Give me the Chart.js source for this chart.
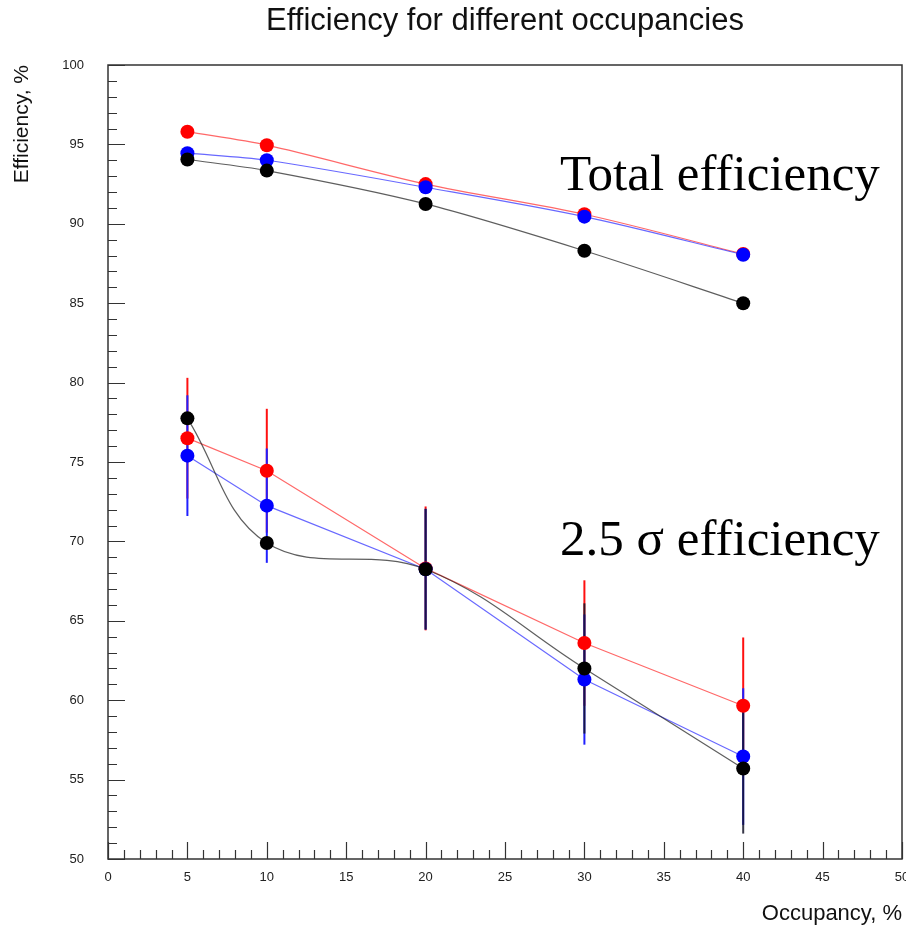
<!DOCTYPE html>
<html>
<head>
<meta charset="utf-8">
<title>Efficiency for different occupancies</title>
<script src="https://cdn.jsdelivr.net/npm/chart.js@4.4.1/dist/chart.umd.min.js"></script>
<style>
  body { margin: 0; background: #fff; }
  canvas { display: block; }
</style>
</head>
<body>
<canvas id="myChart" width="906" height="927"></canvas>
<script>
'use strict';

// Global variables

let occupancy = [5, 10, 20, 30, 40];

// total efficiency, %
let totalRed = [95.8, 94.95, 92.5, 90.6, 88.1];
let totalBlue = [94.45, 94.0, 92.3, 90.45, 88.05];
let totalBlack = [94.05, 93.35, 91.25, 88.3, 85.0];

// 2.5 sigma efficiency, %
let sigmaRed = [76.5, 74.45, 68.3, 63.6, 59.65];
let sigmaBlue = [75.4, 72.25, 68.25, 61.3, 56.45];
let sigmaBlack = [77.75, 69.9, 68.25, 62.0, 55.7];

// errors on the 2.5 sigma points
let sigmaRedErr = [3.8, 3.9, 3.9, 3.95, 4.3];
let sigmaBlueErr = [3.8, 3.6, 3.8, 4.1, 4.3];
let sigmaBlackErr = [0, 0, 3.8, 4.1, 4.1];

let xTicks = [0, 5, 10, 15, 20, 25, 30, 35, 40, 45, 50];
let yTicks = [50, 55, 60, 65, 70, 75, 80, 85, 90, 95, 100];

// text labels inside the frame: [text, x, y] in data units
let plotLabels = [
  ['Total efficiency', 48.6, 92.13],
  ['2.5 \u03c3 efficiency', 48.6, 69.14]
];

// functions

function toPoints(values) {
  let pts = [];
  for (let i = 0; i < occupancy.length; i++) {
    pts.push({ x: occupancy[i], y: values[i] });
  }
  return pts;
}

function makeSet(label, values, color, lineColor, tension) {
  return {
    label: label,
    data: toPoints(values),
    borderColor: lineColor,
    backgroundColor: color,
    borderWidth: 1.2,
    pointRadius: 7,
    pointBorderWidth: 0,
    pointBackgroundColor: color,
    tension: tension
  };
}

// error bars drawn under the markers
const errorBars = {
  id: 'errorBars',
  beforeDatasetsDraw(chart) {
    let ctx = chart.ctx;
    let xs = chart.scales.x;
    let ys = chart.scales.y;
    let sets = [
      [sigmaRed, sigmaRedErr, '#ff1010'],
      [sigmaBlue, sigmaBlueErr, '#2020ff'],
      [sigmaBlack, sigmaBlackErr, 'rgba(20,20,40,0.85)']
    ];
    ctx.save();
    ctx.lineWidth = 2;
    for (let s = 0; s < sets.length; s++) {
      let vals = sets[s][0];
      let errs = sets[s][1];
      ctx.strokeStyle = sets[s][2];
      for (let i = 0; i < occupancy.length; i++) {
        if (!errs[i]) continue;
        let px = xs.getPixelForValue(occupancy[i]);
        ctx.beginPath();
        ctx.moveTo(px, ys.getPixelForValue(vals[i] + errs[i]));
        ctx.lineTo(px, ys.getPixelForValue(vals[i] - errs[i]));
        ctx.stroke();
      }
    }
    ctx.restore();
  }
};

// frame with inward ticks, plus the two labels
const frameTicks = {
  id: 'frameTicks',
  afterDraw(chart) {
    let ctx = chart.ctx;
    let area = chart.chartArea;
    let xs = chart.scales.x;
    let ys = chart.scales.y;
    ctx.save();
    ctx.strokeStyle = '#333';
    ctx.lineWidth = 1.5;
    ctx.strokeRect(area.left, area.top, area.right - area.left, area.bottom - area.top);
    ctx.lineWidth = 1.2;
    ctx.beginPath();
    for (let v = 0; v <= 50; v++) {
      let px = Math.round(xs.getPixelForValue(v)) + 0.5;
      let len = v % 5 === 0 ? 17 : 9;
      ctx.moveTo(px, area.bottom);
      ctx.lineTo(px, area.bottom - len);
    }
    for (let v = 50; v <= 100; v++) {
      let py = Math.round(ys.getPixelForValue(v)) + 0.5;
      let len = v % 5 === 0 ? 17 : 9;
      ctx.moveTo(area.left, py);
      ctx.lineTo(area.left + len, py);
    }
    ctx.stroke();

    ctx.fillStyle = '#000';
    ctx.font = '51px "Liberation Serif", "Times New Roman", serif';
    ctx.textAlign = 'right';
    ctx.textBaseline = 'alphabetic';
    for (let i = 0; i < plotLabels.length; i++) {
      let lab = plotLabels[i];
      ctx.fillText(lab[0], xs.getPixelForValue(lab[1]), ys.getPixelForValue(lab[2]));
    }
    ctx.restore();
  }
};

// executable code

let datasets = [
  makeSet('Black total', totalBlack, '#000000', 'rgba(40,40,40,0.75)', 0.3),
  makeSet('Black 2.5 sigma', sigmaBlack, '#000000', 'rgba(40,40,40,0.75)', 0.38),
  makeSet('Blue total', totalBlue, '#0000ff', 'rgba(40,40,255,0.7)', 0.3),
  makeSet('Blue 2.5 sigma', sigmaBlue, '#0000ff', 'rgba(40,40,255,0.7)', 0),
  makeSet('Red total', totalRed, '#ff0000', 'rgba(255,40,40,0.7)', 0.3),
  makeSet('Red 2.5 sigma', sigmaRed, '#ff0000', 'rgba(255,40,40,0.7)', 0)
];

const ctx = document.getElementById('myChart');
const config = {
  type: 'line',
  data: { datasets: datasets },
  options: {
    responsive: false,
    animation: false,
    layout: { autoPadding: false, padding: { top: 0, right: 4, bottom: 0, left: 0 } },
    plugins: {
      legend: { display: false },
      tooltip: { enabled: false },
      title: {
        display: true,
        fullSize: false,
        text: 'Efficiency for different occupancies',
        color: '#111',
        font: { family: '"Liberation Sans", Arial, sans-serif', size: 31, weight: 'normal', lineHeight: 1.2 },
        padding: { top: 3, bottom: 24.8 }
      }
    },
    scales: {
      x: {
        type: 'linear',
        min: 0,
        max: 50,
        grid: { display: false, drawTicks: false },
        border: { display: false },
        afterBuildTicks: function (scale) {
          scale.ticks = xTicks.map(v => ({ value: v }));
        },
        afterFit: function (scale) {
          scale.height = 68;
          scale.paddingLeft = 0;
          scale.paddingRight = 0;
        },
        ticks: {
          color: '#222',
          padding: 11,
          maxRotation: 0,
          autoSkip: false,
          font: { family: '"Liberation Sans", Arial, sans-serif', size: 13 }
        },
        title: {
          display: true,
          text: 'Occupancy, %',
          align: 'end',
          color: '#111',
          font: { family: '"Liberation Sans", Arial, sans-serif', size: 22, lineHeight: 1.2 },
          padding: { top: 0, bottom: 0 }
        }
      },
      y: {
        type: 'linear',
        min: 50,
        max: 100,
        grid: { display: false, drawTicks: false },
        border: { display: false },
        afterBuildTicks: function (scale) {
          scale.ticks = yTicks.map(v => ({ value: v }));
        },
        afterFit: function (scale) {
          scale.width = 108;
          scale.paddingTop = 0;
          scale.paddingBottom = 0;
        },
        ticks: {
          color: '#222',
          padding: 24,
          autoSkip: false,
          font: { family: '"Liberation Sans", Arial, sans-serif', size: 13 }
        },
        title: {
          display: true,
          text: 'Efficiency, %',
          align: 'end',
          color: '#111',
          font: { family: '"Liberation Sans", Arial, sans-serif', size: 21, lineHeight: 1.2 },
          padding: { top: 10, bottom: 10 }
        }
      }
    }
  },
  plugins: [errorBars, frameTicks]
};
new Chart(ctx, config);
</script>
</body>
</html>
